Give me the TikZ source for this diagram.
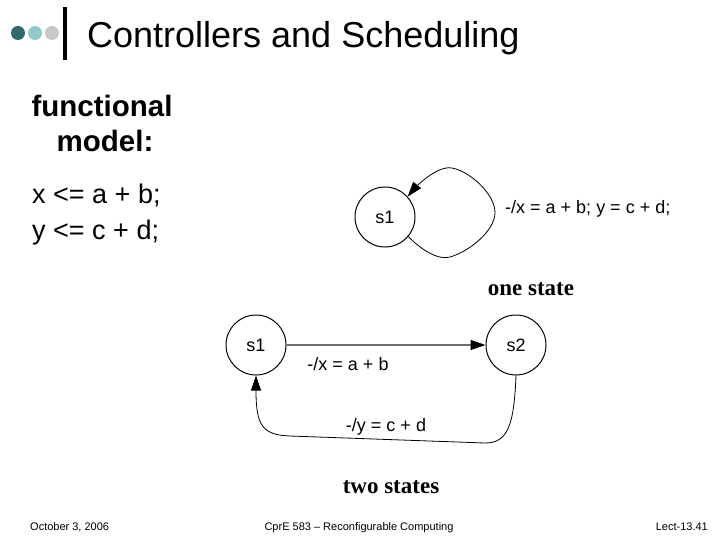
\documentclass[tikz,border=0pt]{standalone}
\usepackage{fontspec}
\setmainfont{Liberation Sans}
\newfontfamily\timesf{Liberation Serif}
\usetikzlibrary{arrows.meta}
\definecolor{dotdark}{HTML}{2E6B70}
\definecolor{dotlight}{HTML}{8FC9CC}
\definecolor{dotgray}{HTML}{C8C8C8}
\definecolor{edgegray}{HTML}{707070}
\begin{document}
\begin{tikzpicture}[x=1pt,y=-1pt,
  state/.style={circle,draw,line width=1pt,minimum size=60pt,inner sep=0pt,font=\fontsize{18}{21}\selectfont},
  lbl/.style={inner sep=0pt,font=\fontsize{18}{21}\selectfont},
  tip/.style={-{Triangle[length=15pt,width=10pt,color=black]}},
  big/.style={inner sep=0pt,anchor=base,font=\fontsize{27}{32}\selectfont},
  bigb/.style={inner sep=0pt,anchor=base,font=\bfseries\fontsize{29.5}{35}\selectfont},
  captxt/.style={inner sep=0pt,font=\timesf\bfseries\fontsize{23}{27}\selectfont},
  foot/.style={inner sep=0pt,anchor=base,font=\fontsize{11}{13}\selectfont},
  dot/.style={circle,inner sep=0pt,minimum size=14pt}]
\useasboundingbox[fill=white] (0,0) rectangle (720,540);
% header
\node[dot,fill=dotdark] (d1) at (18,33) {};
\node[dot,fill=dotlight] (d2) at (35,33) {};
\node[dot,fill=dotgray] (d3) at (52,33) {};
\draw[line width=3.5pt] (65,7) -- (65,60);
\node[inner sep=0pt,anchor=base west,font=\fontsize{36}{43}\selectfont] (title) at (87,48) {Controllers and Scheduling};
% left text
\node[bigb] (t1) at (102,117) {functional};
\node[bigb] (t2) at (105,152) {model:};
\node[big,anchor=base west] (t3) at (32,204) {x <= a + b;};
\node[big,anchor=base west] (t4) at (32,240) {y <= c + d;};
% one state
\node[state] (s1) at (385,217) {s1};
\draw[tip,line width=0.8pt] plot[smooth,tension=0.75] coordinates {(s1.-40) (450,257) (495,213) (452,168) (s1.42)};
\node[lbl,anchor=west] (l0) at (505,209) {-/x = a + b; y = c + d;};
\node[captxt] (c1) at (531,289) {one state};
% two states
\node[state] (a1) at (256,345) {s1};
\node[state] (a2) at (516,345) {s2};
\draw[tip,draw=edgegray,line width=1.3pt] (a1) -- (a2);
\node[lbl] (l1) at (348,364) {-/x = a + b};
\draw[tip,line width=0.8pt] (a2.south) .. controls (514,425) and (508,443) .. (485,443) -- (290,436) .. controls (262,435) and (256,425) .. (a1.south);
\node[lbl] (l2) at (386,427) {-/y = c + d};
\node[captxt] (c2) at (391,487) {two states};
% footer
\node[foot,anchor=base west] (f1) at (30,530) {October 3, 2006};
\node[foot] (f2) at (359,530) {CprE 583 -- Reconfigurable Computing};
\node[foot,anchor=base east] (f3) at (708,530) {Lect-13.41};
\end{tikzpicture}
\end{document}
